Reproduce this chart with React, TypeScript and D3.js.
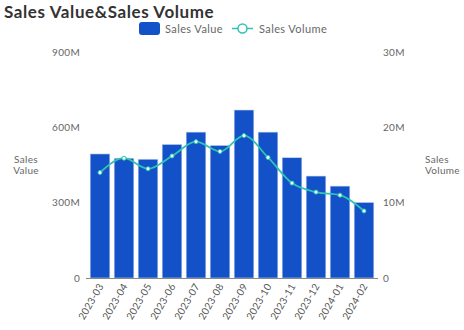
import React from "react";
import * as d3 from "d3";

const months = ["2023-03","2023-04","2023-05","2023-06","2023-07","2023-08","2023-09","2023-10","2023-11","2023-12","2024-01","2024-02"];
const salesValue = [494, 477, 473, 532, 581, 528, 669, 581, 479, 406, 366, 301]; // millions
const salesVolume = [14.0, 15.9, 14.5, 16.2, 18.1, 16.8, 18.9, 16.0, 12.6, 11.4, 11.0, 8.9]; // millions
const leftTicks = [0, 300, 600, 900];
const rightTicks = [0, 10, 20, 30];

const W = 464, H = 330;
const FONT = "Lato, 'Open Sans', sans-serif";
const BAR = "#1351c8";
const LINE = "#2ec4b4";

export default function App() {
  const x = d3.scaleBand<string>().domain(months).range([88, 376]).paddingInner(0.18).paddingOuter(0.09);
  const yL = d3.scaleLinear().domain([0, 900]).range([278, 52]);
  const yR = d3.scaleLinear().domain([0, 30]).range([278, 52]);
  const line = d3.line<number>()
    .x((_, i) => (x(months[i]) as number) + x.bandwidth() / 2)
    .y((d) => yR(d))
    .curve(d3.curveMonotoneX);

  return (
    <svg width={W} height={H} style={{ position: "absolute", left: 0, top: 0, fontFamily: FONT }}>
      <text x={4} y={17.5} fontSize={17} fontWeight={700} fill="#333" letterSpacing={0.6}>Sales Value&amp;Sales Volume</text>
      {/* legend */}
      <rect x={139} y={22} width={21} height={13} rx={3} fill={BAR} />
      <text x={165} y={32.5} fontSize={11} fill="#666" letterSpacing={0.4}>Sales Value</text>
      <line x1={232} x2={253} y1={28.5} y2={28.5} stroke={LINE} strokeWidth={1.5} />
      <circle cx={242.5} cy={28.5} r={4.5} fill="#fff" stroke={LINE} strokeWidth={1.5} />
      <text x={259} y={32.5} fontSize={11} fill="#666" letterSpacing={0.4}>Sales Volume</text>

      {/* left ticks */}
      {leftTicks.map((t) => (
        <text key={"l" + t} x={80} y={yL(t) + 3.5} fontSize={10} fill="#666" textAnchor="end" letterSpacing={0.3}>
          {t === 0 ? "0" : t + "M"}
        </text>
      ))}
      {rightTicks.map((t) => (
        <text key={"r" + t} x={383} y={yR(t) + 3.5} fontSize={10} fill="#666" letterSpacing={0.3}>
          {t === 0 ? "0" : t + "M"}
        </text>
      ))}
      <text x={26} y={163} fontSize={10} fill="#666" textAnchor="middle" letterSpacing={0.3}>Sales</text>
      <text x={26} y={174} fontSize={10} fill="#666" textAnchor="middle" letterSpacing={0.3}>Value</text>
      <text x={425} y={163} fontSize={10} fill="#666" letterSpacing={0.3}>Sales</text>
      <text x={425} y={174} fontSize={10} fill="#666" letterSpacing={0.3}>Volume</text>

      {/* bars */}
      {salesValue.map((v, i) => (
        <rect key={months[i]} x={x(months[i])} y={yL(v)} width={x.bandwidth()} height={yL(0) - yL(v)}
          fill={BAR} stroke="#c9d6ef" strokeWidth={0.6} />
      ))}
      <line x1={86} x2={378} y1={278.5} y2={278.5} stroke="#888" strokeWidth={1} />

      {/* line */}
      <path d={line(salesVolume) || ""} fill="none" stroke={LINE} strokeWidth={1.8} />
      {salesVolume.map((v, i) => (
        <circle key={"p" + i} cx={(x(months[i]) as number) + x.bandwidth() / 2} cy={yR(v)} r={2}
          fill="#fff" stroke={LINE} strokeWidth={1} />
      ))}

      {/* x labels */}
      {months.map((m) => {
        const cx = (x(m) as number) + x.bandwidth() / 2 + 4;
        return (
          <text key={"x" + m} transform={`translate(${cx},${286}) rotate(-60)`} fontSize={10} fill="#555" textAnchor="end" letterSpacing={0.2}>
            {m}
          </text>
        );
      })}
    </svg>
  );
}
